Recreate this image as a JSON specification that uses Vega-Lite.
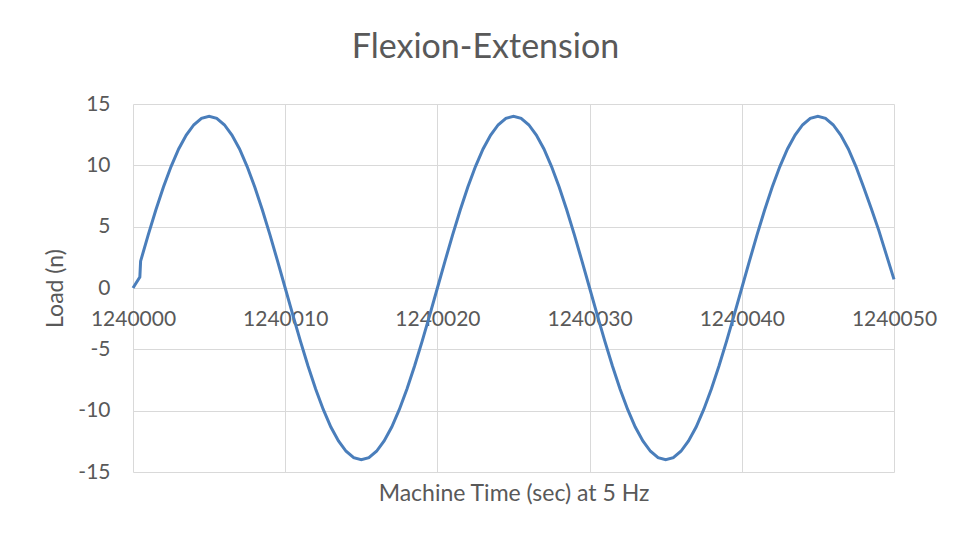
{
  "$schema": "https://vega.github.io/schema/vega-lite/v6.json",
  "width": 761,
  "height": 368,
  "autosize": {"type": "none"},
  "padding": {"left": 133, "top": 104, "right": 70, "bottom": 68},
  "background": "white",
  "config": {
    "view": {"stroke": null},
    "font": "Lato",
    "axis": {"labelFont": "Lato", "titleFont": "Lato", "labelColor": "#595959", "titleColor": "#595959", "gridColor": "#d9d9d9", "domainColor": "#d9d9d9", "labelFontSize": 21, "titleFontSize": 23, "titleFontWeight": "normal"}
  },
  "title": {"text": "Flexion-Extension", "fontSize": 34, "fontWeight": "normal", "color": "#595959", "font": "Lato", "anchor": "middle", "frame": "group", "dx": -28, "offset": 28},
  "data": {"values": [
    {"t":1240000,"v":0},{"t":1240000.45,"v":0.9},{"t":1240000.5,"v":2.19},{"t":1240001,"v":4.33},{"t":1240001.5,"v":6.36},{"t":1240002,"v":8.23},{"t":1240002.5,"v":9.9},{"t":1240003,"v":11.33},{"t":1240003.5,"v":12.47},{"t":1240004,"v":13.31},{"t":1240004.5,"v":13.83},{"t":1240005,"v":14},
    {"t":1240005.5,"v":13.83},{"t":1240006,"v":13.31},{"t":1240006.5,"v":12.47},{"t":1240007,"v":11.33},{"t":1240007.5,"v":9.9},{"t":1240008,"v":8.23},{"t":1240008.5,"v":6.36},{"t":1240009,"v":4.33},{"t":1240009.5,"v":2.19},{"t":1240010,"v":0},
    {"t":1240010.5,"v":-2.19},{"t":1240011,"v":-4.33},{"t":1240011.5,"v":-6.36},{"t":1240012,"v":-8.23},{"t":1240012.5,"v":-9.9},{"t":1240013,"v":-11.33},{"t":1240013.5,"v":-12.47},{"t":1240014,"v":-13.31},{"t":1240014.5,"v":-13.83},{"t":1240015,"v":-14},
    {"t":1240015.5,"v":-13.83},{"t":1240016,"v":-13.31},{"t":1240016.5,"v":-12.47},{"t":1240017,"v":-11.33},{"t":1240017.5,"v":-9.9},{"t":1240018,"v":-8.23},{"t":1240018.5,"v":-6.36},{"t":1240019,"v":-4.33},{"t":1240019.5,"v":-2.19},{"t":1240020,"v":0},
    {"t":1240020.5,"v":2.19},{"t":1240021,"v":4.33},{"t":1240021.5,"v":6.36},{"t":1240022,"v":8.23},{"t":1240022.5,"v":9.9},{"t":1240023,"v":11.33},{"t":1240023.5,"v":12.47},{"t":1240024,"v":13.31},{"t":1240024.5,"v":13.83},{"t":1240025,"v":14},
    {"t":1240025.5,"v":13.83},{"t":1240026,"v":13.31},{"t":1240026.5,"v":12.47},{"t":1240027,"v":11.33},{"t":1240027.5,"v":9.9},{"t":1240028,"v":8.23},{"t":1240028.5,"v":6.36},{"t":1240029,"v":4.33},{"t":1240029.5,"v":2.19},{"t":1240030,"v":0},
    {"t":1240030.5,"v":-2.19},{"t":1240031,"v":-4.33},{"t":1240031.5,"v":-6.36},{"t":1240032,"v":-8.23},{"t":1240032.5,"v":-9.9},{"t":1240033,"v":-11.33},{"t":1240033.5,"v":-12.47},{"t":1240034,"v":-13.31},{"t":1240034.5,"v":-13.83},{"t":1240035,"v":-14},
    {"t":1240035.5,"v":-13.83},{"t":1240036,"v":-13.31},{"t":1240036.5,"v":-12.47},{"t":1240037,"v":-11.33},{"t":1240037.5,"v":-9.9},{"t":1240038,"v":-8.23},{"t":1240038.5,"v":-6.36},{"t":1240039,"v":-4.33},{"t":1240039.5,"v":-2.19},{"t":1240040,"v":0},
    {"t":1240040.5,"v":2.19},{"t":1240041,"v":4.33},{"t":1240041.5,"v":6.36},{"t":1240042,"v":8.23},{"t":1240042.5,"v":9.9},{"t":1240043,"v":11.33},{"t":1240043.5,"v":12.47},{"t":1240044,"v":13.31},{"t":1240044.5,"v":13.83},{"t":1240045,"v":14},
    {"t":1240045.5,"v":13.83},{"t":1240046,"v":13.31},{"t":1240046.5,"v":12.47},{"t":1240047,"v":11.33},{"t":1240047.5,"v":9.9},{"t":1240048,"v":8.23},{"t":1240048.5,"v":6.5},{"t":1240049,"v":4.7},{"t":1240049.5,"v":2.7},{"t":1240050,"v":0.7}
  ]},
  "encoding": {
    "y": {"field": "v", "type": "quantitative", "scale": {"domain": [-15, 15], "nice": false, "zero": false},
      "axis": {"values": [-15, -10, -5, 0, 5, 10, 15], "labelExpr": "'' + datum.value", "grid": true, "ticks": false, "domain": false, "labelPadding": 23, "title": "Load (n)", "titlePadding": 10}}
  },
  "layer": [
    {
      "mark": {"type": "line", "color": "#4A7EBB", "strokeWidth": 3},
      "encoding": {
        "x": {"field": "t", "type": "quantitative", "scale": {"domain": [1240000, 1240050], "nice": false, "zero": false},
          "axis": {"orient": "bottom", "values": [1240000, 1240010, 1240020, 1240030, 1240040, 1240050], "grid": true, "labels": false, "ticks": false, "domain": false, "title": "Machine Time (sec) at 5 Hz", "titlePadding": 10}}
      }
    },
    {
      "mark": {"type": "line", "strokeOpacity": 0},
      "encoding": {
        "x": {"field": "t", "type": "quantitative",
          "axis": {"orient": "bottom", "offset": -184, "values": [1240000, 1240010, 1240020, 1240030, 1240040, 1240050], "format": "d", "labelFlush": false, "labelBound": false, "labelOverlap": false, "grid": false, "ticks": false, "domain": true, "labelPadding": 20, "title": null}}
      }
    }
  ],
  "resolve": {"axis": {"x": "independent"}}
}
